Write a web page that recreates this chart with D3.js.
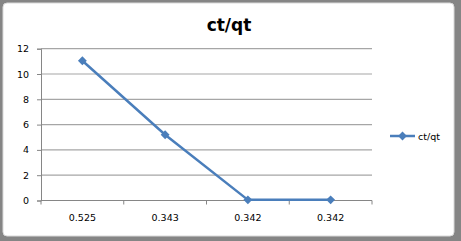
<!DOCTYPE html>
<html>
<head>
<meta charset="utf-8">
<script src="https://cdn.jsdelivr.net/npm/d3@7"></script>
<style>
  body { margin: 0; background: #fff; }
  text { font-family: "DejaVu Sans", Verdana, sans-serif; fill: #000; }
</style>
</head>
<body>
<div id="chart"></div>
<script>
// chart values
var categories = ["0.525", "0.343", "0.342", "0.342 "];
var seriesName = "ct/qt";
var values = [11.05, 5.2, 0.05, 0.05];
var yTicks = [0, 2, 4, 6, 8, 10, 12];

var width = 461, height = 241;
var plot = { left: 41, right: 372, top: 48.7, bottom: 200.5 };
var color = '#4a7ebb';

var svg = d3.select("#chart")
	.append("svg")
	.attr("width", width)
	.attr("height", height);

// Frame
svg.append("rect")
	.attr("x", 0).attr("y", 0)
	.attr("width", width).attr("height", height)
	.attr("fill", "#858585");
svg.append("rect")
	.attr("x", 3).attr("y", 3)
	.attr("width", 451).attr("height", 233)
	.attr("rx", 4)
	.attr("fill", "#fff")
	.attr("stroke", "#d9d9d9")
	.attr("stroke-width", 1);

// Scales
var x = d3.scaleBand()
	.domain(categories)
	.range([plot.left, plot.right]);

var y = d3.scaleLinear()
	.domain([0, 12])
	.range([plot.bottom, plot.top]);

// Gridlines
svg.append("g")
	.selectAll("line")
	.data(yTicks.filter(function(d) { return d > 0; }))
	.enter()
	.append("line")
	.attr("x1", plot.left).attr("x2", plot.right)
	.attr("y1", function(d) { return y(d); })
	.attr("y2", function(d) { return y(d); })
	.attr("stroke", "#a6a6a6")
	.attr("stroke-width", 1.2);

// Y axis
var yAxis = svg.append("g")
	.attr("transform", "translate(" + plot.left + ",0)")
	.call(d3.axisLeft(y).tickValues(yTicks).tickSize(4).tickPadding(8));
yAxis.select(".domain").attr("stroke", "#868686");
yAxis.selectAll(".tick line").attr("stroke", "#868686");
yAxis.selectAll("text").attr("font-size", 9.5).attr("font-family", "DejaVu Sans");

// X axis
var xAxis = svg.append("g")
	.attr("transform", "translate(0," + plot.bottom + ")")
	.call(d3.axisBottom(x).tickSize(0).tickPadding(14));
xAxis.select(".domain").attr("stroke", "#868686").attr("d", "M" + plot.left + ",0H" + plot.right);
xAxis.selectAll("text").attr("font-size", 9.5).attr("font-family", "DejaVu Sans");

// tick marks between categories
var bounds = categories.map(function(c) { return x(c); }).concat([plot.right]);
svg.append("g")
	.selectAll("line")
	.data(bounds)
	.enter()
	.append("line")
	.attr("x1", function(d) { return d; })
	.attr("x2", function(d) { return d; })
	.attr("y1", plot.bottom)
	.attr("y2", plot.bottom + 4)
	.attr("stroke", "#868686");

// Line
var cx = function(d, i) { return x(categories[i]) + x.bandwidth() / 2; };
var line = d3.line()
	.x(cx)
	.y(function(d) { return y(d); });

svg.append("path")
	.datum(values)
	.attr("d", line)
	.attr("fill", "none")
	.attr("stroke", color)
	.attr("stroke-width", 2.5);

var diamond = d3.symbol().type(d3.symbolDiamond2).size(50);
svg.append("g")
	.selectAll("path")
	.data(values)
	.enter()
	.append("path")
	.attr("d", diamond)
	.attr("transform", function(d, i) { return "translate(" + cx(d, i) + "," + y(d) + ")"; })
	.attr("fill", color);

// Title
svg.append("text")
	.attr("x", 229).attr("y", 31)
	.attr("text-anchor", "middle")
	.attr("font-size", 17)
	.attr("font-weight", "bold")
	.text(seriesName);

// Legend
var legend = svg.append("g").attr("transform", "translate(390,136)");
legend.append("line")
	.attr("x1", 0).attr("x2", 25)
	.attr("stroke", color).attr("stroke-width", 2.5);
legend.append("path")
	.attr("d", diamond)
	.attr("transform", "translate(12.5,0)")
	.attr("fill", color);
legend.append("text")
	.attr("x", 28).attr("y", 3.5)
	.attr("font-size", 9.5)
	.text(seriesName);
</script>
</body>
</html>
